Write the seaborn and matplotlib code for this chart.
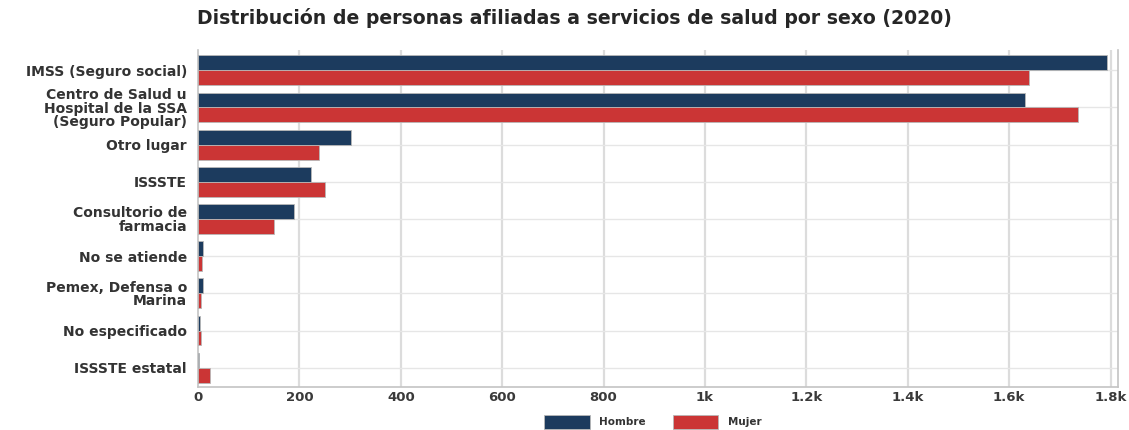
import pandas as pd
import seaborn as sns
import matplotlib.pyplot as plt
from matplotlib.ticker import FixedLocator, FixedFormatter

# categories (top to bottom) and values
categorias = [
    'IMSS (Seguro social)',
    'Centro de Salud u\nHospital de la SSA\n(Seguro Popular)',
    'Otro lugar',
    'ISSSTE',
    'Consultorio de\nfarmacia',
    'No se atiende',
    'Pemex, Defensa o\nMarina',
    'No especificado',
    'ISSSTE estatal',
]
hombre = [1792, 1632, 301, 222, 189, 9, 9, 3, 2]
mujer = [1640, 1735, 239, 251, 149, 7, 5, 5, 23]
sexos = ['Hombre', 'Mujer']
colores = ['#1c3b5e', '#cb3535']
xticks = [0, 200, 400, 600, 800, 1000, 1200, 1400, 1600, 1800]
xtick_labels = ['0', '200', '400', '600', '800', '1k', '1.2k', '1.4k', '1.6k', '1.8k']

df = pd.DataFrame({
    'categoria': categorias * 2,
    'sexo': [sexos[0]] * len(categorias) + [sexos[1]] * len(categorias),
    'valor': hombre + mujer,
})

sns.set_style('white')
plt.rcParams['font.family'] = ['DejaVu Sans']

fig = plt.figure(figsize=(11.29, 4.30), dpi=100)
ax = fig.add_axes([0.1754, 0.10, 0.8146, 0.784])

sns.barplot(data=df, y='categoria', x='valor', hue='sexo', order=categorias,
            hue_order=sexos, palette=colores, orient='h', width=0.8,
            edgecolor='#b8b8b8', linewidth=0.6, saturation=1, ax=ax, zorder=3)

ax.set_xlim(0, 1814)
ax.set_ylim(len(categorias) - 0.5 + 0.02, -0.5 - 0.05)

# grid lines
for x in xticks[1:]:
    ax.axvline(x, color='#dcdcdc', lw=1.6, zorder=0)
for i in range(len(categorias)):
    ax.axhline(i, color='#e6e6e6', lw=1.0, zorder=0)

ax.xaxis.set_major_locator(FixedLocator(xticks))
ax.xaxis.set_major_formatter(FixedFormatter(xtick_labels))
ax.tick_params(axis='x', length=0, pad=3, labelsize=9.5, labelcolor='#3a3a3a')
ax.tick_params(axis='y', length=0, pad=8, labelsize=10, labelcolor='#333333')
for lab in ax.get_xticklabels():
    lab.set_fontweight('bold')
for lab in ax.get_yticklabels():
    lab.set_fontweight('bold')
    lab.set_linespacing(0.92)
    lab.set_multialignment('right')

ax.set_xlabel('')
ax.set_ylabel('')

ax.spines['top'].set_visible(False)
for side in ['left', 'bottom', 'right']:
    ax.spines[side].set_color('#c4c4c4')
    ax.spines[side].set_linewidth(1.2)

ax.legend_.remove()
handles, labels = ax.get_legend_handles_labels()
leg = fig.legend(handles, labels, loc='upper center', bbox_to_anchor=(0.578, 0.036),
                 ncol=2, frameon=False, fontsize=7.5, handlelength=4.4,
                 handleheight=1.7, handletextpad=0.9, columnspacing=2.6,
                 borderaxespad=0, borderpad=0)
for t in leg.get_texts():
    t.set_fontweight('bold')
    t.set_color('#333333')

fig.text(0.509, 0.958, 'Distribución de personas afiliadas a servicios de salud por sexo (2020)',
         ha='center', va='center', fontsize=13.6, fontweight='bold', color='#262626')

fig.savefig('out.png', dpi=100)
